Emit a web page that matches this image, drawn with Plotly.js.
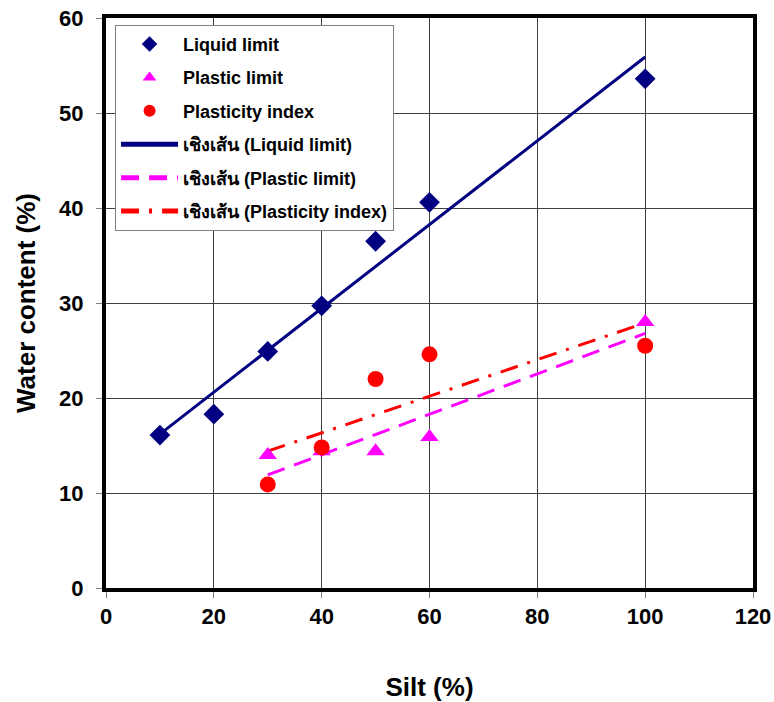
<!DOCTYPE html>
<html>
<head>
<meta charset="utf-8">
<script src="https://cdn.plot.ly/plotly-3.0.1.min.js"></script>
<style>html,body{margin:0;padding:0;background:#fff;}#chart{width:774px;height:702px;}</style>
</head>
<body>
<div id="chart"></div>
<script>
// Data
const siltLL = [10, 20, 30, 40, 50, 60, 100];
const liquidLimit = [16.1, 18.3, 24.9, 29.7, 36.5, 40.6, 53.6];
const siltPL = [30, 40, 50, 60, 100];
const plasticLimit = [14.0, 14.4, 14.4, 15.9, 28.0];
const siltPI = [30, 40, 50, 60, 100];
const plasticityIndex = [10.9, 14.8, 22.0, 24.6, 25.5];
// Linear trend lines (end points)
const llTrendX = [10, 100];
const llTrendY = [16.2, 55.9];
const plTrendX = [30, 100];
const plTrendY = [11.9, 26.8];
const piTrendX = [30, 100];
const piTrendY = [14.4, 27.9];
const names = ['Liquid limit', 'Plastic limit', 'Plasticity index',
  'เชิงเส้น (Liquid limit)', 'เชิงเส้น (Plastic limit)', 'เชิงเส้น (Plasticity index)'];

const navy = '#000080', magenta = '#FF00FF', red = '#FF0000';
const traces = [
  {x: llTrendX, y: llTrendY, mode: 'lines', name: names[3], legendrank: 4, legendgroup: 'd',
   line: {color: navy, width: 3}},
  {x: plTrendX, y: plTrendY, mode: 'lines', name: names[4], legendrank: 5, legendgroup: 'e',
   line: {color: magenta, width: 3, dash: '18px,10px'}},
  {x: piTrendX, y: piTrendY, mode: 'lines', name: names[5], legendrank: 6, legendgroup: 'f',
   line: {color: red, width: 3, dash: '18px,10px,3px,10px'}},
  {x: siltLL, y: liquidLimit, mode: 'markers', name: names[0], legendrank: 1, legendgroup: 'a',
   marker: {symbol: 'diamond', color: navy, size: 16}},
  {x: siltPL, y: plasticLimit, mode: 'markers', name: names[1], legendrank: 2, legendgroup: 'b',
   marker: {symbol: 'triangle-up', color: magenta, size: 16}},
  {x: siltPI, y: plasticityIndex, mode: 'markers', name: names[2], legendrank: 3, legendgroup: 'c',
   marker: {symbol: 'circle', color: red, size: 16}}
];

const fontFam = 'Arial, "Liberation Sans", "DejaVu Sans", sans-serif';
const layout = {
  width: 774, height: 702,
  margin: {l: 106, r: 21, t: 18, b: 114},
  paper_bgcolor: '#fff', plot_bgcolor: '#fff',
  font: {family: fontFam, color: '#000'},
  showlegend: true,
  legend: {
    x: 0.014, y: 0.988, xanchor: 'left', yanchor: 'top',
    bgcolor: '#fff', bordercolor: '#808080', borderwidth: 1,
    font: {family: fontFam, size: 18, weight: 'bold', color: '#000'},
    tracegroupgap: 7, itemsizing: 'constant', itemwidth: 57,
    traceorder: 'grouped'
  },
  xaxis: {
    range: [0, 120], dtick: 20, tick0: 0,
    showgrid: true, gridcolor: '#404040', gridwidth: 1,
    zeroline: false,
    showline: true, linecolor: '#000', linewidth: 4, mirror: true,
    ticks: 'outside', ticklen: 6, tickcolor: '#808080', tickwidth: 1,
    tickfont: {family: fontFam, size: 22, weight: 'bold', color: '#000'},
    title: {text: 'Silt (%)', font: {family: fontFam, size: 26, weight: 'bold', color: '#000'}, standoff: 52}
  },
  yaxis: {
    range: [0, 60], dtick: 10, tick0: 0,
    showgrid: true, gridcolor: '#404040', gridwidth: 1,
    zeroline: false,
    showline: true, linecolor: '#000', linewidth: 4, mirror: true,
    ticks: 'outside', ticklen: 6, tickcolor: '#808080', tickwidth: 1,
    ticklabelstandoff: 8,
    tickfont: {family: fontFam, size: 22, weight: 'bold', color: '#000'},
    title: {text: 'Water content (%)', font: {family: fontFam, size: 26, weight: 'bold', color: '#000'}, standoff: 17}
  }
};
Plotly.newPlot('chart', traces, layout, {displayModeBar: false});
</script>
</body>
</html>
